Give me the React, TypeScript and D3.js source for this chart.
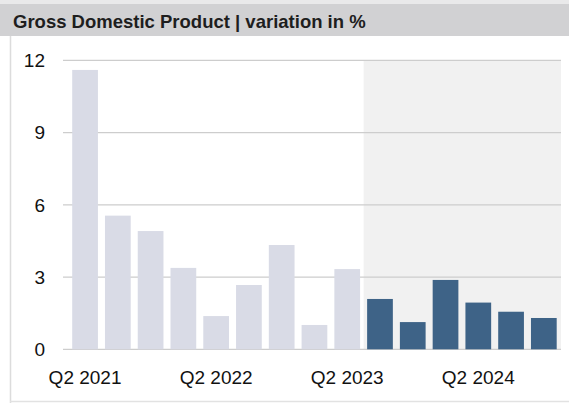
import React from "react";
import * as d3 from "d3";

const quarters = [
  "Q2 2021", "Q3 2021", "Q4 2021", "Q1 2022", "Q2 2022", "Q3 2022", "Q4 2022",
  "Q1 2023", "Q2 2023", "Q3 2023", "Q4 2023", "Q1 2024", "Q2 2024", "Q3 2024", "Q4 2024",
];
const gdpValues = [11.6, 5.55, 4.91, 3.38, 1.38, 2.67, 4.33, 1.01, 3.33, 2.09, 1.13, 2.88, 1.94, 1.56, 1.3];
const forecastFrom = "Q3 2023";
const yTicks = [0, 3, 6, 9, 12];
const xTickLabels = ["Q2 2021", "Q2 2022", "Q2 2023", "Q2 2024"];
const title = "Gross Domestic Product | variation in %";

const W = 569;
const H = 403;
const FONT = "'Liberation Sans', Arial, Helvetica, sans-serif";

export default function App() {
  const x = d3
    .scaleBand<string>()
    .domain(quarters)
    .range([68.6, 560.3])
    .paddingInner(0.215)
    .paddingOuter(0.11);
  const y = d3.scaleLinear().domain([0, 12]).range([349.3, 60.3]);

  const gridX0 = 63;
  const gridX1 = 561;
  const fIdx = quarters.indexOf(forecastFrom);
  const shadeX =
    ((x(quarters[fIdx - 1]) as number) + x.bandwidth() + (x(forecastFrom) as number)) / 2;

  return (
    <svg
      width={W}
      height={H}
      style={{ position: "absolute", left: 0, top: 0, background: "#fff" }}
      fontFamily={FONT}
    >
      {/* header */}
      <rect x={0} y={0} width={W} height={4} fill="#e9e9ea" />
      <rect x={0} y={4} width={W} height={32} fill="#d1d1d3" />
      <text x={13} y={27.8} fontSize={18.5} fontWeight="bold" fill="#1e1e1e">
        {title}
      </text>
      {/* panel borders */}
      <line x1={10.5} x2={10.5} y1={36} y2={H} stroke="#dcdcdc" strokeWidth={1.5} />
      <line x1={10} x2={W} y1={401.5} y2={401.5} stroke="#e2e2e2" strokeWidth={1.5} />

      {/* forecast shading */}
      <rect
        x={shadeX}
        y={y(12)}
        width={gridX1 - shadeX}
        height={y(0) - y(12)}
        fill="#f1f1f1"
      />

      {/* gridlines */}
      {yTicks.map((t) => (
        <line
          key={t}
          x1={gridX0}
          x2={gridX1}
          y1={y(t)}
          y2={y(t)}
          stroke="#cdcdcd"
          strokeWidth={1.2}
        />
      ))}

      {/* y tick labels */}
      {yTicks.map((t) => (
        <text
          key={"l" + t}
          x={45}
          y={y(t)}
          dy="0.36em"
          textAnchor="end"
          fontSize={19}
          fill="#111"
        >
          {t}
        </text>
      ))}

      {/* bars */}
      {quarters.map((q, i) => (
        <rect
          key={q}
          x={x(q)}
          y={y(gdpValues[i])}
          width={x.bandwidth()}
          height={y(0) - y(gdpValues[i])}
          fill={i >= fIdx ? "#3e6387" : "#d9dbe6"}
        />
      ))}

      {/* x tick labels */}
      {xTickLabels.map((q) => (
        <text
          key={"x" + q}
          x={(x(q) as number) + x.bandwidth() / 2}
          y={383.5}
          textAnchor="middle"
          fontSize={19}
          fill="#111"
        >
          {q}
        </text>
      ))}
    </svg>
  );
}
